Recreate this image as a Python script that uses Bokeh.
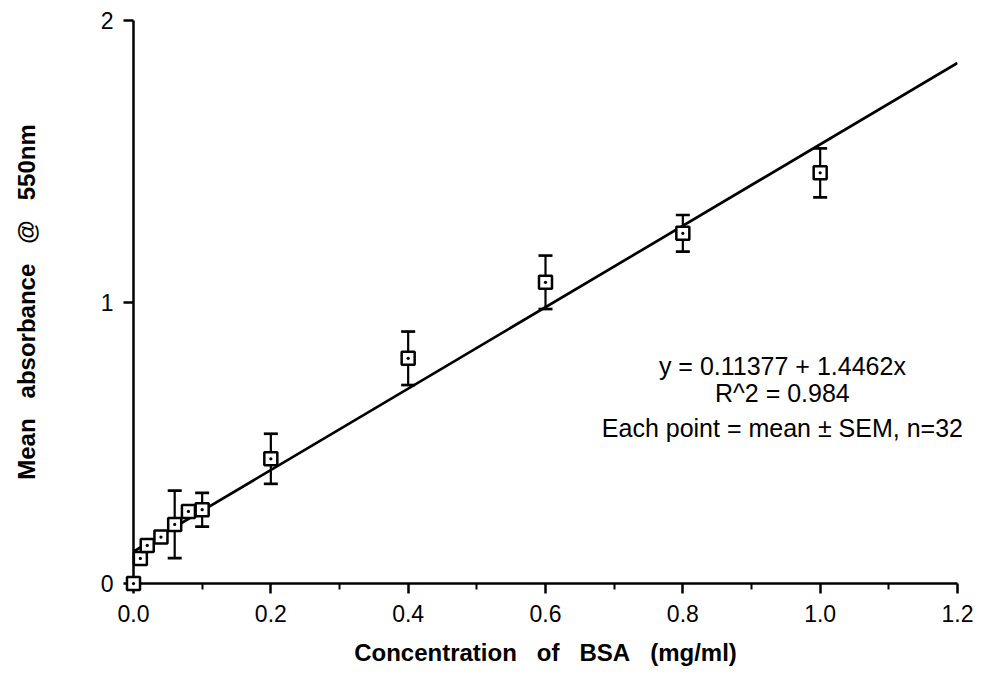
from bokeh.plotting import figure
from bokeh.models import (Range1d, FixedTicker, NumeralTickFormatter,
                          ColumnDataSource, Whisker, TeeHead)
from bokeh.core.properties import value
from bokeh.embed import file_html
from bokeh.resources import INLINE

# --- data ---
conc = [0.0, 0.01, 0.02, 0.04, 0.06, 0.08, 0.10, 0.20, 0.40, 0.60, 0.80, 1.00]
absorb = [0.0, 0.089, 0.135, 0.165, 0.21, 0.256, 0.262, 0.443, 0.80, 1.07, 1.244, 1.459]
sem = [0.0, 0.01, 0.01, 0.01, 0.12, 0.01, 0.06, 0.089, 0.095, 0.095, 0.065, 0.087]
intercept = 0.11377
slope = 1.4462
fit_x = [0.0, 1.2]
x_major_ticks = [0.0, 0.2, 0.4, 0.6, 0.8, 1.0, 1.2]
x_minor_ticks = [0.1, 0.3, 0.5, 0.7, 0.9, 1.1]
y_ticks = [0, 1, 2]
eq_lines = ["y = 0.11377 + 1.4462x", "R^2 = 0.984", "Each point = mean \u00b1 SEM, n=32"]

FONT = "Liberation Sans"

p = figure(width=995, height=675, x_range=Range1d(0, 1.2), y_range=Range1d(0, 2),
           output_backend="svg", toolbar_location=None,
           min_border_left=133, min_border_right=38, min_border_top=20, min_border_bottom=92)
p.outline_line_color = None
p.grid.visible = False
p.background_fill_color = "white"
p.border_fill_color = "white"

# axes
p.xaxis.ticker = FixedTicker(ticks=x_major_ticks, minor_ticks=x_minor_ticks)
p.xaxis.formatter = NumeralTickFormatter(format="0.0")
p.yaxis.ticker = FixedTicker(ticks=y_ticks, minor_ticks=[])
for ax in (p.xaxis, p.yaxis):
    ax.axis_line_width = 2.5
    ax.axis_line_color = "black"
    ax.major_tick_line_width = 2.5
    ax.major_tick_line_color = "black"
    ax.major_tick_in = 0
    ax.major_tick_out = 10
    ax.minor_tick_line_width = 2
    ax.minor_tick_line_color = "black"
    ax.minor_tick_in = 0
    ax.minor_tick_out = 6
    ax.major_label_text_font = FONT
    ax.major_label_text_font_size = "23px"
    ax.major_label_text_color = "black"
    ax.axis_label_text_font = FONT
    ax.axis_label_text_font_size = "24px"
    ax.axis_label_text_font_style = "bold"
    ax.axis_label_text_color = "black"

sp = "\u00a0\u00a0\u00a0"
p.xaxis.axis_label = "Concentration" + sp + "of" + sp + "BSA" + sp + "(mg/ml)"
p.yaxis.axis_label = "Mean" + sp + "absorbance" + sp + "@" + sp + "550nm"
p.xaxis.major_label_standoff = 11
p.xaxis.axis_label_standoff = 14
p.yaxis.major_label_standoff = 10
p.yaxis.axis_label_standoff = 58

# regression line
fit_y = [intercept + slope * xv for xv in fit_x]
p.line(fit_x, fit_y, line_color="black", line_width=2.7)

# error bars
upper = [a + s for a, s in zip(absorb, sem)]
lower = [a - s for a, s in zip(absorb, sem)]
src = ColumnDataSource(dict(x=conc, y=absorb, upper=upper, lower=lower))
w = Whisker(source=src, base="x", upper="upper", lower="lower", dimension="height",
            line_color="black", line_width=2.2,
            upper_head=TeeHead(size=14, line_width=2.7, line_color="black"),
            lower_head=TeeHead(size=14, line_width=2.7, line_color="black"))
p.add_layout(w)

# markers
p.scatter("x", "y", source=src, marker="square_dot", size=13, line_color="black",
          line_width=2.5, fill_color="white", level="overlay")

# equation annotation
eq_y = [0.771, 0.678, 0.551]
eq_src = ColumnDataSource(dict(x=[0.945] * len(eq_lines), y=eq_y, text=eq_lines))
p.text("x", "y", text="text", source=eq_src, text_align="center", text_baseline="middle",
       text_font=value(FONT), text_font_size="25px", text_color="black", level="overlay")

open("out.html", "w").write(file_html(p, INLINE))
